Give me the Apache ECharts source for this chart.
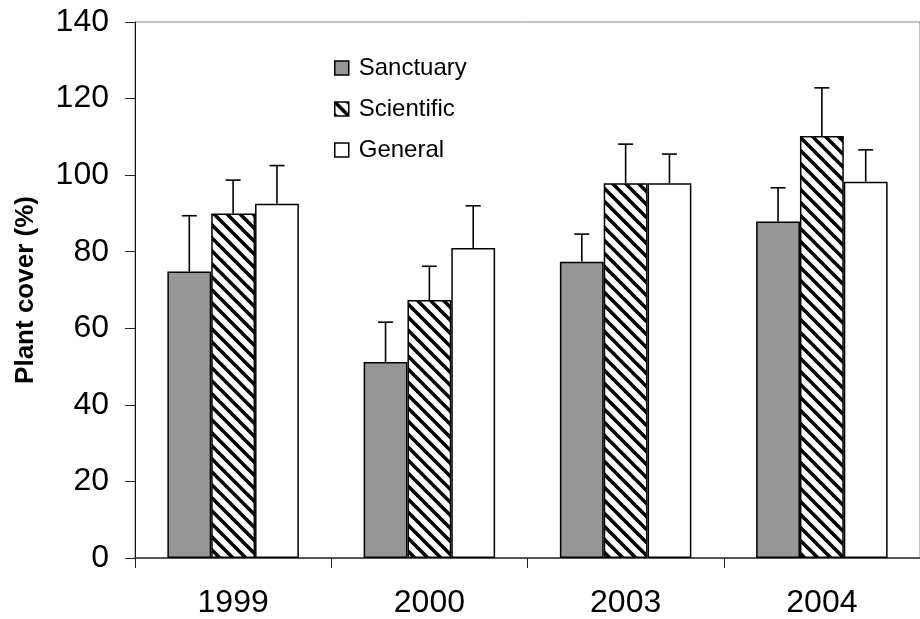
<!DOCTYPE html>
<html>
<head>
<meta charset="utf-8">
<script src="https://cdn.jsdelivr.net/npm/echarts@6/dist/echarts.min.js"></script>
<style>
  html, body { margin: 0; padding: 0; background: #fff; }
  #chart { width: 920px; height: 619px; }
</style>
</head>
<body>
<div id="chart"></div>
<script>
// Plant cover by protection zone, survey years
const years = ['1999', '2000', '2003', '2004'];
const seriesNames = ['Sanctuary', 'Scientific', 'General'];

const sanctuary    = [74.8, 51.2, 77.4, 87.9];
const sanctuaryErr = [14.6, 10.4, 7.2, 8.8];
const scientific    = [90.0, 67.4, 97.9, 110.2];
const scientificErr = [8.7, 8.8, 10.2, 12.6];
const general    = [92.5, 81.0, 97.9, 98.3];
const generalErr = [10.0, 11.0, 7.6, 8.3];

const yTicks = [0, 20, 40, 60, 80, 100, 120, 140];

const FONT = "'Liberation Sans', Arial, Helvetica, sans-serif";
const CAT_GAP = 0.33;

// Diagonal hatch tile for the "Scientific" bars
function hatchTile() {
  const P = 13;
  const c = document.createElement('canvas');
  c.width = P; c.height = P;
  const ctx = c.getContext('2d');
  ctx.fillStyle = '#fff';
  ctx.fillRect(0, 0, P, P);
  ctx.strokeStyle = '#000';
  ctx.lineWidth = 3.6;
  ctx.lineCap = 'square';
  for (let k = -1; k <= 1; k++) {
    ctx.beginPath();
    ctx.moveTo(k * P, 0);
    ctx.lineTo(k * P + P, P);
    ctx.stroke();
  }
  return c;
}

const fills = ['#969696', { image: hatchTile(), repeat: 'repeat' }, '#ffffff'];
const values = [sanctuary, scientific, general];
const errors = [sanctuaryErr, scientificErr, generalErr];

function barSeries(i) {
  return {
    name: seriesNames[i],
    type: 'bar',
    data: values[i],
    barGap: '0%',
    barCategoryGap: (CAT_GAP * 100) + '%',
    itemStyle: { color: fills[i], borderColor: '#000', borderWidth: 1.5 },
    emphasis: { disabled: true },
    z: 2
  };
}

// Upper error whiskers, placed over each bar of the group
function errorSeries(i) {
  return {
    name: seriesNames[i] + ' SE',
    type: 'custom',
    data: values[i].map((v, j) => [j, v, v + errors[i][j]]),
    encode: { x: 0, y: [1, 2] },
    z: 5,
    silent: true,
    renderItem(params, api) {
      const catW = api.size([1, 0])[0];
      const barW = catW * (1 - CAT_GAP) / 3;
      const base = api.coord([api.value(0), api.value(1)]);
      const top = api.coord([api.value(0), api.value(2)]);
      const x = base[0] + (i - 1) * barW;
      const capHalf = 7.5;
      const style = { stroke: '#000', lineWidth: 1.6, fill: null };
      return {
        type: 'group',
        children: [
          { type: 'line', shape: { x1: x, y1: base[1], x2: x, y2: top[1] }, style },
          { type: 'line', shape: { x1: x - capHalf, y1: top[1], x2: x + capHalf, y2: top[1] }, style }
        ]
      };
    }
  };
}

const chart = echarts.init(document.getElementById('chart'), null, { renderer: 'canvas' });

chart.setOption({
  animation: false,
  backgroundColor: '#fff',
  grid: {
    left: 135,
    right: -13,
    top: 22,
    bottom: 61,
    show: true,
    borderColor: '#888',
    borderWidth: 1,
    backgroundColor: 'transparent'
  },
  legend: {
    data: seriesNames,
    orient: 'vertical',
    left: 329,
    top: 51,
    itemWidth: 14,
    itemHeight: 14,
    itemGap: 17,
    icon: 'rect',
    selectedMode: false,
    itemStyle: { borderColor: '#000', borderWidth: 1.5 },
    textStyle: { fontFamily: FONT, fontSize: 24, color: '#000', padding: [0, 0, 0, 5] }
  },
  xAxis: {
    type: 'category',
    data: years,
    axisLine: { show: true, lineStyle: { color: '#333', width: 1.5 } },
    axisTick: { show: true, length: 10, lineStyle: { color: '#222', width: 1 } },
    axisLabel: { fontFamily: FONT, fontSize: 32, color: '#000', margin: 29 },
    splitLine: { show: false }
  },
  yAxis: {
    type: 'value',
    min: yTicks[0],
    max: yTicks[yTicks.length - 1],
    interval: yTicks[1] - yTicks[0],
    name: 'Plant cover (%)',
    nameLocation: 'middle',
    nameGap: 96,
    nameTextStyle: { fontFamily: FONT, fontSize: 26, fontWeight: 'bold', color: '#000' },
    axisLine: { show: true, lineStyle: { color: '#111', width: 1 } },
    axisTick: { show: true, inside: false, length: 10, lineStyle: { color: '#222', width: 1 } },
    axisLabel: { fontFamily: FONT, fontSize: 32, color: '#000', margin: 26 },
    splitLine: { show: false }
  },
  series: [
    barSeries(0), barSeries(1), barSeries(2),
    errorSeries(0), errorSeries(1), errorSeries(2)
  ]
});
</script>
</body>
</html>
